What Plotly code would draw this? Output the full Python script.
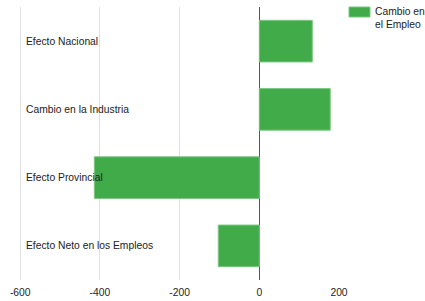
import plotly.graph_objects as go

categories = ["Efecto Nacional", "Cambio en la Industria", "Efecto Provincial", "Efecto Neto en los Empleos"]
values = [133, 178, -414, -103]
series_name = "Cambio en<br>el Empleo"
tick_vals = [-600, -400, -200, 0, 200]
tick_text = ["-600", "-400", "-200", "0", "200"]

font_family = "Liberation Sans, Arial, sans-serif"
font_size = 10.3
bar_color = "#41ab4a"

# plot area in pixels (for placing the hand-drawn legend)
W, H = 425, 301
L, R, T, B = 19, 86, 7, 21
pw, ph = W - L - R, H - T - B

def px(x):
    return (x - L) / pw

def py(y):
    return 1 - (y - T) / ph

fig = go.Figure()
fig.add_trace(go.Bar(
    y=categories, x=values, orientation="h", name=series_name,
    marker=dict(color=bar_color, line=dict(color="#7cc783", width=1)),
    showlegend=False,
))

for c in categories:
    fig.add_annotation(x=0, xref="paper", y=c, yref="y", text=c, showarrow=False,
                       xanchor="left", xshift=5, font=dict(family=font_family, size=font_size, color="#222222"))

# legend
fig.add_shape(type="rect", xref="paper", yref="paper",
              x0=px(349), x1=px(370), y0=py(17), y1=py(7),
              fillcolor=bar_color, line=dict(color="#7cc783", width=1))
fig.add_annotation(x=px(373), y=py(4), xref="paper", yref="paper", text=series_name,
                   showarrow=False, xanchor="left", yanchor="top", align="left",
                   font=dict(family=font_family, size=font_size, color="#222222"))

fig.update_layout(
    width=W, height=H,
    margin=dict(l=L, r=R, t=T, b=B, autoexpand=False),
    plot_bgcolor="white", paper_bgcolor="white",
    bargap=0.39,
    showlegend=False,
    font=dict(family=font_family, size=font_size, color="#222222"),
    xaxis=dict(range=[-603, 200], tickvals=tick_vals, ticktext=tick_text,
               showgrid=True, gridcolor="#e0e0e0", gridwidth=1,
               zeroline=True, zerolinecolor="#555555", zerolinewidth=1,
               showline=False, ticks="", ticklabelstandoff=5,
               tickfont=dict(size=font_size, color="#222222")),
    yaxis=dict(autorange="reversed", showticklabels=False, showgrid=False, zeroline=False, ticks=""),
)

fig.write_html("out.html", config={"displayModeBar": False},
               post_script="document.body.style.margin='0';document.body.style.overflow='hidden';")
